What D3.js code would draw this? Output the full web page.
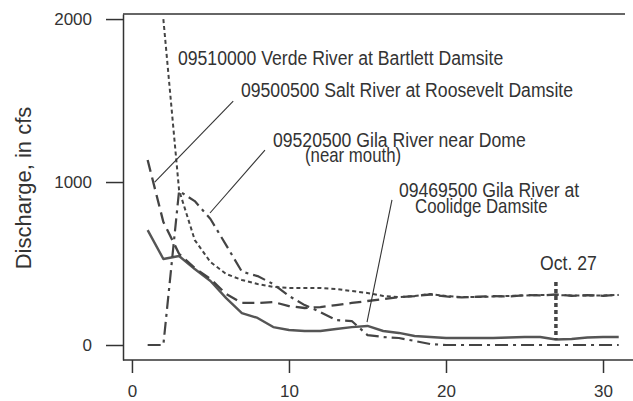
<!DOCTYPE html>
<html>
<head>
<meta charset="utf-8">
<script src="https://cdn.jsdelivr.net/npm/d3@7"></script>
<style>
  html, body { margin: 0; padding: 0; background: #fff; }
  svg { display: block; }
  text { font-family: "Liberation Sans", Arial, sans-serif; fill: #333; }
</style>
</head>
<body>
<svg id="chart" width="633" height="401"></svg>
<script>
// ---- data (day of month, discharge in cfs) ----
const days = d3.range(1, 32);
const coolidge = [705, 528, 546, 466, 393, 288, 196, 166, 110, 92, 86, 86, 98, 110, 117, 86, 74, 55, 49, 43, 43, 43, 43, 46, 49, 49, 34, 37, 46, 49, 49];
const dome     = [0, 0, 945, 883, 773, 613, 450, 423, 374, 301, 245, 202, 153, 147, 61, 49, 43, 25, 6, 0, 0, 0, 0, 0, 0, 0, 0, 0, 0, 0, 0];
const salt     = [1135, 755, 560, 472, 405, 313, 258, 258, 264, 239, 227, 233, 245, 258, 270, 282, 294, 300, 310, 298, 292, 296, 300, 298, 306, 304, 310, 302, 306, 302, 308];
const verde    = [null, 2000, 951, 644, 509, 436, 399, 374, 356, 350, 350, 350, 344, 331, 319, 301, 294, 301, 313, 301, 294, 294, 298, 301, 304, 307, 307, 304, 304, 304, 307];
const xTicks = [0, 10, 20, 30];
const yTicks = [0, 1000, 2000];
const yTitle = "Discharge, in cfs";

// annotations (data units)
const labels = [
  { text: "09510000 Verde River at Bartlett Damsite", day: 2.93, val: 1718, size: 21 },
  { text: "09500500 Salt River at Roosevelt Damsite", day: 6.94, val: 1521, size: 21 },
  { text: "09520500 Gila River near Dome", day: 8.98, val: 1215, size: 21 },
  { text: "(near mouth)", day: 11.02, val: 1122, size: 20 },
  { text: "09469500 Gila River at", day: 17.0, val: 908, size: 21 },
  { text: "Coolidge Damsite", day: 18.03, val: 810, size: 20 },
  { text: "Oct. 27", day: 25.99, val: 460, size: 21 }
];
const leaders = [
  { d0: 6.45, v0: 1497, d1: 1.45, v1: 1000 },
  { d0: 8.47, v0: 1196, d1: 4.97, v1: 810 },
  { d0: 16.56, v0: 890, d1: 14.97, v1: 141 }
];
const marker = { day: 27, v0: 387, v1: 31 };

// ---- layout ----
const svg = d3.select("#chart");
const pLeft = 123, pRight = 625, pTop = 14, pBottom = 360;
const x = d3.scaleLinear().domain([-0.57, 31.4]).range([pLeft, pRight]);
const y = d3.scaleLinear().domain([-92, 2031]).range([pBottom, pTop]);

// frame top line
svg.append("line").attr("x1", pLeft).attr("x2", pRight).attr("y1", pTop).attr("y2", pTop)
  .attr("stroke", "#333").attr("stroke-width", 1.5);

// axes
const gy = svg.append("g").attr("transform", `translate(${pLeft},0)`)
  .call(d3.axisLeft(y).tickValues(yTicks).tickFormat(d3.format("d")).tickSize(17).tickSizeOuter(0).tickPadding(14));
const gx = svg.append("g").attr("transform", `translate(0,${pBottom})`)
  .call(d3.axisBottom(x).tickValues(xTicks).tickFormat(d3.format("d")).tickSize(13).tickSizeOuter(0).tickPadding(12));
[gy, gx].forEach(g => {
  g.selectAll("path.domain").attr("stroke", "#333").attr("stroke-width", 1.5);
  g.selectAll(".tick line").attr("stroke", "#333").attr("stroke-width", 1.5);
  g.selectAll(".tick text").attr("font-size", 17).attr("fill", "#333")
    .attr("font-family", '"Liberation Sans", Arial, sans-serif');
});
gx.select("path.domain").attr("d", `M${pLeft},0H633`);

// y title
svg.append("text")
  .attr("transform", `translate(31,188) rotate(-90)`)
  .attr("text-anchor", "middle")
  .attr("font-size", 22)
  .attr("fill", "#444")
  .text(yTitle);

// ---- series ----
const series = [
  { vals: coolidge, dash: null, w: 2.4, color: "#555" },
  { vals: dome, dash: "13,5,3,5", w: 2.2, color: "#444" },
  { vals: salt, dash: "12,6", w: 2.3, color: "#444" },
  { vals: verde, dash: "4,3", w: 2, color: "#444" }
];
const line = d3.line()
  .defined(d => d[1] != null)
  .x(d => x(d[0])).y(d => y(d[1]));
series.forEach(s => {
  svg.append("path")
    .datum(days.map((d, i) => [d, s.vals[i]]))
    .attr("d", line)
    .attr("fill", "none")
    .attr("stroke", s.color)
    .attr("stroke-width", s.w)
    .attr("stroke-dasharray", s.dash)
    .attr("stroke-linejoin", "round");
});

// Oct 27 marker
svg.append("line")
  .attr("x1", x(marker.day)).attr("x2", x(marker.day))
  .attr("y1", y(marker.v0)).attr("y2", y(marker.v1))
  .attr("stroke", "#444").attr("stroke-width", 3.5).attr("stroke-dasharray", "4,3");

// leaders
leaders.forEach(l => {
  svg.append("line")
    .attr("x1", x(l.d0)).attr("y1", y(l.v0))
    .attr("x2", x(l.d1)).attr("y2", y(l.v1))
    .attr("stroke", "#333").attr("stroke-width", 1.1);
});

// labels (narrow sans)
labels.forEach(lb => {
  svg.append("text")
    .attr("transform", `translate(${x(lb.day)},${y(lb.val)}) scale(0.84,1)`)
    .attr("font-size", lb.size)
    .attr("fill", "#333")
    .text(lb.text);
});
</script>
</body>
</html>
